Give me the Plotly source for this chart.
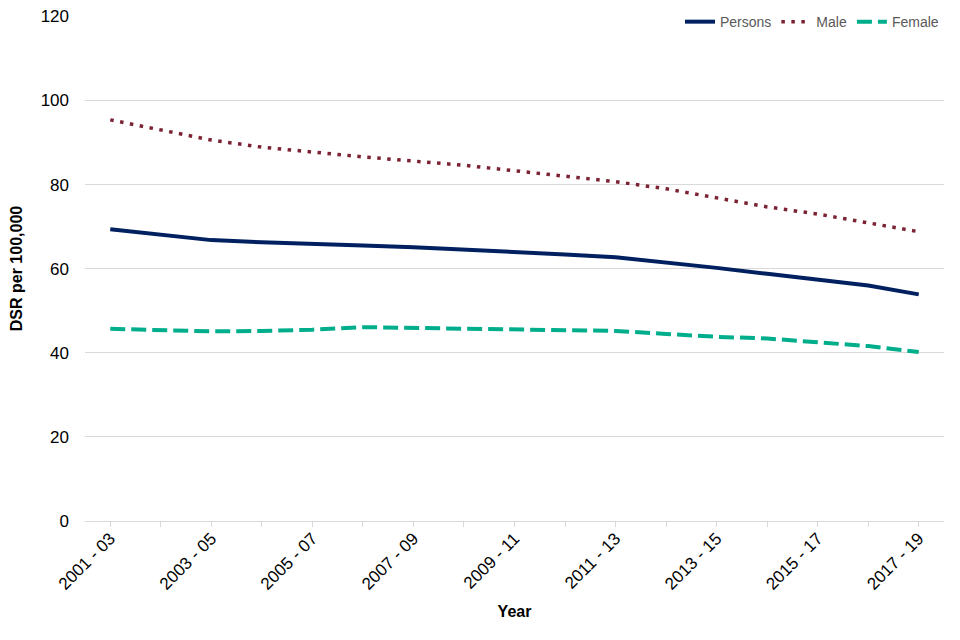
import plotly.graph_objects as go

categories = ["2001 - 03", "2002 - 04", "2003 - 05", "2004 - 06", "2005 - 07", "2006 - 08",
              "2007 - 09", "2008 - 10", "2009 - 11", "2010 - 12", "2011 - 13", "2012 - 14",
              "2013 - 15", "2014 - 16", "2015 - 17", "2016 - 18", "2017 - 19"]
persons = [69.4, 68.1, 66.8, 66.3, 65.8, 65.5, 65.1, 64.6, 64.0, 63.4, 62.7, 61.5,
           60.2, 58.8, 57.4, 56.0, 53.9]
male = [95.4, 93.0, 90.6, 88.9, 87.7, 86.6, 85.6, 84.6, 83.3, 81.9, 80.7, 79.0,
        76.8, 74.7, 73.0, 71.0, 68.8]
female = [45.7, 45.4, 45.1, 45.2, 45.5, 46.1, 45.9, 45.8, 45.7, 45.5, 45.2, 44.5,
          43.8, 43.4, 42.6, 41.6, 40.2]
tick_labels = categories[::2]
y_ticks = [0, 20, 40, 60, 80, 100, 120]

fig = go.Figure()
fig.add_trace(go.Scatter(x=categories, y=persons, name="Persons", mode="lines",
                         line=dict(color="#002060", width=4)))
fig.add_trace(go.Scatter(x=categories, y=male, name="Male", mode="lines",
                         line=dict(color="#7B2332", width=3.5, dash="3.5px,6.5px")))
fig.add_trace(go.Scatter(x=categories, y=female, name="Female", mode="lines",
                         line=dict(color="#00AE8C", width=4, dash="15px,6px")))

fig.update_layout(
    width=960, height=640,
    margin=dict(l=85, r=16, t=16, b=119, autoexpand=False),
    plot_bgcolor="white", paper_bgcolor="white",
    font=dict(family="Liberation Sans, Arial, sans-serif", color="#000000"),
    showlegend=True,
    legend=dict(orientation="h", x=1.0, xanchor="right",
                y=0.988, yanchor="middle",
                bgcolor="white", font=dict(size=14, color="#595959"),
                itemwidth=30, traceorder="normal", borderwidth=0),
    xaxis=dict(
        type="category", range=[-0.5, 16.5], automargin=False,
        tickmode="array", tickvals=tick_labels, ticktext=tick_labels,
        tickangle=-45, tickfont=dict(size=17, color="#000000"),
        showgrid=False, showline=True, linecolor="#d9d9d9", linewidth=1,
        title=dict(text="<b>Year</b>", font=dict(size=16), standoff=13),
        ticks="",
    ),
    yaxis=dict(
        range=[0, 120.1], tickvals=y_ticks, tickfont=dict(size=17, color="#000000"),
        showgrid=True, gridcolor="#d9d9d9", gridwidth=1, zeroline=False, automargin=False,
        showline=False, ticks="", ticklabelstandoff=15,
        title=dict(text="<b>DSR per 100,000</b>", font=dict(size=16), standoff=14),
    ),
)

# tick marks at every category
fig.update_xaxes(minor=dict(ticks="outside", ticklen=5, tickcolor="#d9d9d9",
                            tickmode="array", tickvals=categories, showgrid=False))

fig.write_html("out.html", config={"displayModeBar": False},
               post_script="document.body.style.margin='0';document.body.style.overflow='hidden';")
